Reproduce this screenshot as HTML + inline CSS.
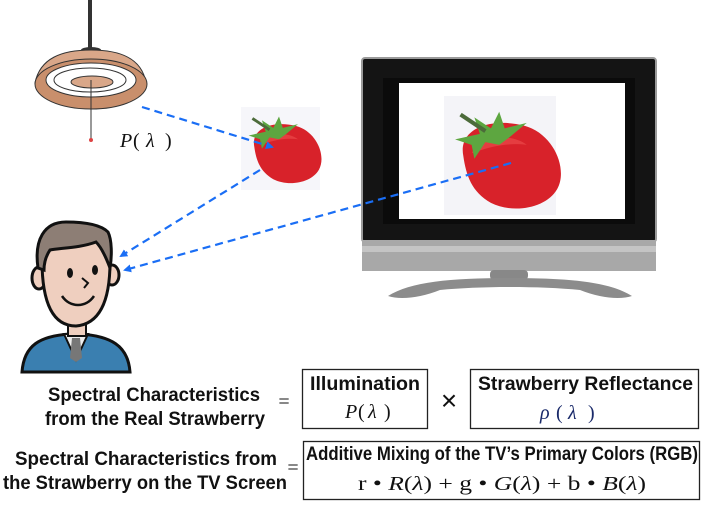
<!DOCTYPE html>
<html><head><meta charset="utf-8"><style>
html,body{margin:0;padding:0;background:#fff;}
svg{display:block}
.t{font-family:"Liberation Sans",sans-serif;font-weight:bold;font-size:19px;fill:#111}
.m{font-family:"Liberation Serif",serif;font-size:20px;fill:#111}
</style></head><body>
<svg width="703" height="506" viewBox="0 0 703 506" xmlns="http://www.w3.org/2000/svg">
<defs>
<marker id="ah" markerWidth="8" markerHeight="8" refX="6" refY="4" orient="auto" markerUnits="userSpaceOnUse"><path d="M0,0 L8,4 L0,8 z" fill="#1a6ef5"/></marker>
<g id="berry">
<path d="M14,42 C10,22 34,14 58,20 C80,26 90,52 82,66 C74,80 50,84 34,76 C20,68 16,56 14,42 z" fill="#d8222a"/>
<path d="M20,40 C28,26 50,26 60,34 C44,32 32,36 20,40z" fill="#ee5050" opacity=".6"/>
<path d="M8,30 L26,26 L22,14 L34,22 L40,10 L44,22 L60,18 L48,28 L40,34 L30,32 L22,44 L20,34 z" fill="#5da640"/>
<path d="M12,12 L30,24" stroke="#4c6b3a" stroke-width="3"/>
</g>
</defs>
<!-- lamp -->
<rect x="88" y="0" width="4" height="48" fill="#333"/>
<ellipse cx="91" cy="50" rx="10" ry="3" fill="#333"/>
<path d="M35,83 C40,58 62,50 91,50 C120,50 142,58 146,83 Z" fill="#d9a789" stroke="#333" stroke-width="1"/>
<ellipse cx="91" cy="84" rx="56" ry="25" fill="#c98f6c" stroke="#333" stroke-width="1"/>
<ellipse cx="91" cy="80" rx="45" ry="17" fill="#fff" stroke="#333" stroke-width="1"/>
<ellipse cx="90" cy="80" rx="36" ry="12" fill="none" stroke="#333" stroke-width="1"/>
<ellipse cx="92" cy="82" rx="21" ry="6" fill="#d9a789" stroke="#333" stroke-width="1"/>
<line x1="91" y1="80" x2="91" y2="139" stroke="#333" stroke-width="1"/>
<circle cx="91" cy="140" r="2" fill="#d44"/>
<text x="120" y="147" class="m" font-style="italic">P</text><text x="133" y="147" class="m">(</text><text x="146" y="147" class="m" font-style="italic">λ</text><text x="165" y="147" class="m">)</text>
<!-- strawberry 1 -->
<rect x="241" y="107" width="79" height="83" fill="#f6f6fa"/>
<g transform="translate(241,107) scale(0.95)"><use href="#berry"/></g>
<!-- TV -->
<rect x="362" y="58" width="294" height="184" rx="3" fill="#141414" stroke="#9a9a9a" stroke-width="2"/>
<rect x="383" y="78" width="252" height="146" fill="#0b0b0b"/>
<rect x="362" y="240" width="294" height="31" fill="#a8a8a8"/>
<rect x="362" y="246" width="294" height="6" fill="#c4c4c4"/>
<rect x="490" y="270" width="38" height="10" rx="4" fill="#888"/>
<path d="M388,296 C410,282 450,278 509,278 C570,278 610,282 632,296 C620,300 600,298 580,290 C540,286 480,286 440,290 C420,298 400,300 388,296z" fill="#8c8c8c"/>
<rect x="399" y="83" width="226" height="136" fill="#fff"/>
<rect x="444" y="96" width="112" height="119" fill="#f4f4f8"/>
<g transform="translate(444,98) scale(1.38)"><use href="#berry"/></g>
<!-- man -->
<path d="M22,372 C24,345 40,336 70,334 L80,334 C110,336 128,345 130,372 Z" fill="#3a7fb0" stroke="#111" stroke-width="3"/>
<path d="M64,334 L76,360 L88,334 Z" fill="#eee" stroke="#111" stroke-width="2"/>
<path d="M72,338 L80,338 L82,358 L76,362 L70,358Z" fill="#777"/>
<rect x="68" y="318" width="18" height="18" fill="#efcfbf" stroke="#111" stroke-width="2"/>
<ellipse cx="39" cy="278" rx="7" ry="11" fill="#efcfbf" stroke="#111" stroke-width="3"/>
<ellipse cx="112" cy="275" rx="7" ry="10" fill="#efcfbf" stroke="#111" stroke-width="3"/>
<path d="M42,260 C42,230 60,225 76,225 C98,225 110,238 110,262 C110,300 100,324 76,326 C52,326 42,302 42,260Z" fill="#efcfbf" stroke="#111" stroke-width="3"/>
<path d="M38,268 C34,240 44,222 66,222 C82,222 100,224 108,232 C112,240 112,256 110,268 C104,252 100,246 96,242 C80,248 60,248 50,250 C46,256 44,262 44,270Z" fill="#8d7e75" stroke="#111" stroke-width="3"/>
<ellipse cx="70" cy="273" rx="3" ry="5" fill="#111"/>
<ellipse cx="95" cy="270" rx="3" ry="5" fill="#111"/>
<path d="M82,278 L88,283 L84,288" fill="none" stroke="#111" stroke-width="2"/>
<path d="M62,296 C70,308 86,308 94,296" fill="none" stroke="#111" stroke-width="2.5"/>
<!-- dashed arrows -->
<g stroke="#1a6ef5" stroke-width="2.2" stroke-dasharray="8,5" fill="none" marker-end="url(#ah)">
<line x1="142" y1="107" x2="272" y2="147"/>
<line x1="260" y1="170" x2="121" y2="256"/>
<line x1="511" y1="163" x2="125" y2="270"/>
</g>
<!-- bottom formulas -->
<text x="48" y="401" class="t" textLength="212" lengthAdjust="spacingAndGlyphs">Spectral Characteristics</text>
<text x="45" y="425" class="t" textLength="220" lengthAdjust="spacingAndGlyphs">from the Real Strawberry</text>
<text x="284" y="408" class="m" text-anchor="middle">=</text>
<rect x="302.5" y="369.5" width="125" height="59" fill="none" stroke="#222" stroke-width="1.3"/>
<text x="310" y="390" class="t" textLength="110" lengthAdjust="spacingAndGlyphs">Illumination</text>
<text x="345" y="418" class="m" font-style="italic">P</text><text x="358" y="418" class="m">(</text><text x="368" y="418" class="m" font-style="italic">λ</text><text x="384" y="418" class="m">)</text>
<text x="449" y="410" font-family="Liberation Sans,sans-serif" font-size="28" text-anchor="middle" fill="#111">×</text>
<rect x="470.5" y="369.5" width="228" height="59" fill="none" stroke="#222" stroke-width="1.3"/>
<text x="478" y="390" class="t" textLength="215" lengthAdjust="spacingAndGlyphs">Strawberry Reflectance</text>
<text x="540" y="419" class="m" font-style="italic" style="fill:#1a2a6a">ρ</text><text x="556" y="419" class="m" style="fill:#1a2a6a">(</text><text x="568" y="419" class="m" font-style="italic" style="fill:#1a2a6a">λ</text><text x="588" y="419" class="m" style="fill:#1a2a6a">)</text>
<text x="15" y="465" class="t" textLength="262" lengthAdjust="spacingAndGlyphs">Spectral Characteristics from</text>
<text x="3" y="489" class="t" textLength="284" lengthAdjust="spacingAndGlyphs">the Strawberry on the TV Screen</text>
<text x="293" y="474" class="m" text-anchor="middle">=</text>
<rect x="303.5" y="441.5" width="396" height="58" fill="none" stroke="#222" stroke-width="1.3"/>
<text x="306" y="460" class="t" font-size="17" textLength="392" lengthAdjust="spacingAndGlyphs">Additive Mixing of the TV’s Primary Colors (RGB)</text>
<text x="358" y="490" class="m" textLength="288" lengthAdjust="spacingAndGlyphs">r • <tspan font-style="italic">R</tspan>(<tspan font-style="italic">λ</tspan>) + g • <tspan font-style="italic">G</tspan>(<tspan font-style="italic">λ</tspan>) + b • <tspan font-style="italic">B</tspan>(<tspan font-style="italic">λ</tspan>)</text>
</svg>
</body></html>
